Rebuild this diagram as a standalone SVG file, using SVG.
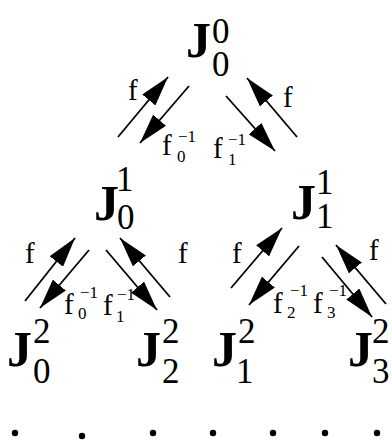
<svg xmlns="http://www.w3.org/2000/svg" width="392" height="447" viewBox="0 0 392 447">
<style>
.J{font-family:"Liberation Serif",serif;font-weight:bold;font-size:50px}
.d{font-family:"Liberation Serif",serif;font-size:35px}
.f{font-family:"Liberation Serif",serif;font-size:29px}
.s{font-family:"Liberation Serif",serif;font-size:17px}
.a{stroke:#000;stroke-width:1.8;fill:none;marker-end:url(#ah)}
</style>
<defs>
<marker id="ah" viewBox="0 0 30 17" refX="30" refY="8.5" markerWidth="30" markerHeight="17" orient="auto" markerUnits="userSpaceOnUse">
<path d="M0,0 L30,8.5 L0,17 z" fill="#000"/>
</marker>
</defs>
<rect width="392" height="447" fill="#fff"/>
<g id="n00"><text class="J" x="186" y="57">J</text><text class="d" x="212" y="43">0</text><text class="d" x="212" y="76">0</text></g>
<g id="n10"><text class="J" x="94" y="220">J</text><text class="d" x="116" y="191">1</text><text class="d" x="117" y="229">0</text></g>
<g id="n11"><text class="J" x="291" y="219">J</text><text class="d" x="316" y="194">1</text><text class="d" x="316" y="228">1</text></g>
<g id="n20"><text class="J" x="7" y="366">J</text><text class="d" x="33" y="343">2</text><text class="d" x="33" y="383">0</text></g>
<g id="n22"><text class="J" x="136" y="366">J</text><text class="d" x="162" y="343">2</text><text class="d" x="162" y="383">2</text></g>
<g id="n21"><text class="J" x="212" y="366">J</text><text class="d" x="238" y="343">2</text><text class="d" x="236" y="383">1</text></g>
<g id="n23"><text class="J" x="348" y="366">J</text><text class="d" x="372" y="343">2</text><text class="d" x="372" y="383">3</text></g>
<g id="connectors">
<line class="a" x1="118" y1="137" x2="168" y2="77"/>
<line class="a" x1="189" y1="86" x2="140" y2="143"/>
<line class="a" x1="226" y1="96" x2="275" y2="151"/>
<line class="a" x1="297" y1="137" x2="247" y2="78"/>
<line class="a" x1="25" y1="301" x2="75" y2="238"/>
<line class="a" x1="89" y1="250" x2="40" y2="308"/>
<line class="a" x1="106" y1="250" x2="157" y2="310"/>
<line class="a" x1="170" y1="297" x2="120" y2="238"/>
<line class="a" x1="231" y1="288" x2="282" y2="228"/>
<line class="a" x1="299" y1="246" x2="249" y2="305"/>
<line class="a" x1="322" y1="257" x2="372" y2="317"/>
<line class="a" x1="386" y1="304" x2="336" y2="245"/>
</g>
<g id="labels">
<text class="f" x="128" y="100">f</text>
<text class="f" x="283" y="107">f</text>
<text class="f" x="162" y="155">f</text><text class="s" x="177" y="162">0</text><text class="s" x="178" y="142">−1</text>
<text class="f" x="213" y="158">f</text><text class="s" x="228" y="165">1</text><text class="s" x="228" y="145">−1</text>
<text class="f" x="25" y="263">f</text>
<text class="f" x="178" y="263">f</text>
<text class="f" x="64" y="314">f</text><text class="s" x="78" y="319">0</text><text class="s" x="80" y="298">−1</text>
<text class="f" x="103" y="315">f</text><text class="s" x="116" y="322">1</text><text class="s" x="117" y="300">−1</text>
<text class="f" x="232" y="263">f</text>
<text class="f" x="369" y="260">f</text>
<text class="f" x="273" y="313">f</text><text class="s" x="287" y="318">2</text><text class="s" x="290" y="296">−1</text>
<text class="f" x="313" y="313">f</text><text class="s" x="327" y="318">3</text><text class="s" x="329" y="296">−1</text>
</g>
<g id="dots" fill="#000">
<circle cx="15" cy="433" r="3.2"/><circle cx="82" cy="436" r="3.2"/><circle cx="153" cy="433" r="3.2"/><circle cx="213" cy="433" r="3.2"/><circle cx="273" cy="433" r="3.2"/><circle cx="325" cy="433" r="3.2"/><circle cx="377" cy="433" r="3.2"/>
</g>
</svg>
